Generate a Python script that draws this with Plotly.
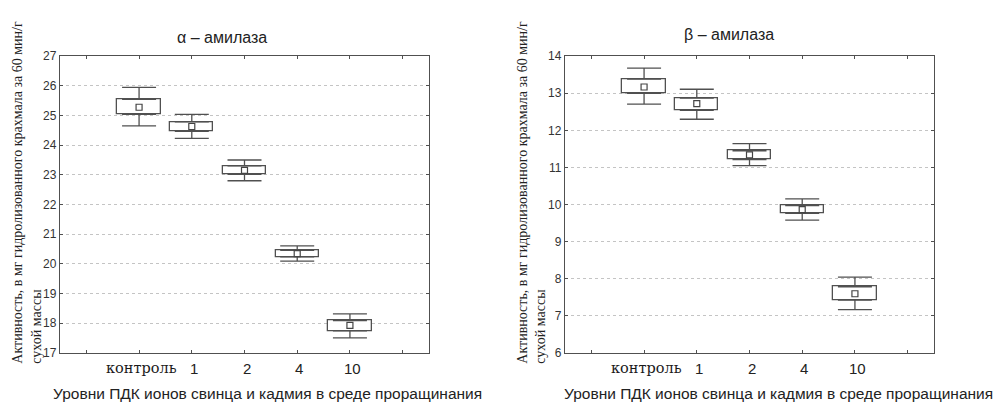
import plotly.graph_objects as go

# ---------------- data ----------------
categories = ["контроль", "1", "2", "4", "10"]
cat_pos = [1, 2, 3, 4, 5]

# alpha-amylase
a_mean = [25.28, 24.63, 23.15, 20.34, 17.92]
a_box_lo = [25.04, 24.47, 23.02, 20.23, 17.74]
a_box_hi = [25.55, 24.79, 23.30, 20.45, 18.08]
a_wh_lo = [24.65, 24.23, 22.80, 20.09, 17.50]
a_wh_hi = [25.95, 25.04, 23.50, 20.60, 18.31]

# beta-amylase
b_mean = [13.17, 12.72, 11.34, 9.86, 7.59]
b_box_lo = [13.00, 12.54, 11.21, 9.76, 7.42]
b_box_hi = [13.38, 12.87, 11.45, 9.97, 7.78]
b_wh_lo = [12.71, 12.30, 11.05, 9.58, 7.16]
b_wh_hi = [13.68, 13.11, 11.64, 10.15, 8.04]

a_yticks = list(range(17, 28))
b_yticks = list(range(6, 15))

W, H = 993, 407
LINE = "#505050"
SERIF = "DejaVu Serif"
SANS = "Liberation Sans"

fig = go.Figure()


def add_panel(xa, ya, mean, blo, bhi, wlo, whi):
    fig.add_trace(go.Bar(
        x=cat_pos, y=[h - l for h, l in zip(bhi, blo)], base=blo,
        width=0.82, marker=dict(color="white", line=dict(color=LINE, width=1.3)),
        xaxis=xa, yaxis=ya, showlegend=False, hoverinfo="skip"))
    fig.add_trace(go.Scatter(
        x=cat_pos, y=bhi, mode="markers",
        marker=dict(color="rgba(0,0,0,0)", size=1),
        error_y=dict(type="data", symmetric=False,
                     array=[w - b for w, b in zip(whi, bhi)],
                     arrayminus=[0] * len(bhi),
                     color=LINE, thickness=1.3, width=17),
        xaxis=xa, yaxis=ya, showlegend=False, hoverinfo="skip"))
    fig.add_trace(go.Scatter(
        x=cat_pos, y=blo, mode="markers",
        marker=dict(color="rgba(0,0,0,0)", size=1),
        error_y=dict(type="data", symmetric=False,
                     array=[0] * len(blo),
                     arrayminus=[b - w for w, b in zip(wlo, blo)],
                     color=LINE, thickness=1.3, width=17),
        xaxis=xa, yaxis=ya, showlegend=False, hoverinfo="skip"))
    fig.add_trace(go.Scatter(
        x=cat_pos, y=mean, mode="markers",
        marker=dict(symbol="square-open", size=6, color="#444444",
                    line=dict(width=1.2, color="#444444")),
        xaxis=xa, yaxis=ya, showlegend=False))


add_panel("x", "y", a_mean, a_box_lo, a_box_hi, a_wh_lo, a_wh_hi)
add_panel("x2", "y2", b_mean, b_box_lo, b_box_hi, b_wh_lo, b_wh_hi)

xcommon = dict(
    range=[-0.5, 6.5], tickmode="array", tickvals=list(range(0, 7)), showticklabels=False,
    ticks="inside", ticklen=3, tickcolor=LINE, showline=True, linecolor=LINE, linewidth=1.3,
    mirror="ticks", showgrid=False, zeroline=False,
)
ycommon = dict(
    ticks="inside", ticklen=3, tickcolor=LINE, showline=True, linecolor=LINE, linewidth=1.3,
    mirror="ticks", showgrid=True, gridcolor="#c4c4c4", griddash="dot", gridwidth=1,
    zeroline=False, tickfont=dict(family=SANS, size=12, color="#333333"),
)

ydom = [1 - 358 / H, 1 - 51 / H]
fig.update_layout(
    width=W, height=H, margin=dict(l=0, r=0, t=0, b=0),
    paper_bgcolor="white", plot_bgcolor="white", bargap=0,
    xaxis=dict(domain=[60 / W, 429 / W], **xcommon),
    yaxis=dict(domain=ydom, range=[17, 27], tickvals=a_yticks, **ycommon),
    xaxis2=dict(domain=[565 / W, 934 / W], anchor="y2", **xcommon),
    yaxis2=dict(domain=ydom, range=[6, 14], tickvals=b_yticks, anchor="x2", **ycommon),
)


def px(x):
    return x / W


def py(y):
    return 1 - y / H


ann = []
# category labels (below the x axes)
for xr in ["x", "x2"]:
    for i, (pos, lab) in enumerate(zip(cat_pos, categories)):
        if i == 0:
            f = dict(family=SERIF, size=14.5, color="#1a1a1a")
        else:
            f = dict(family=SANS, size=15, color="#222")
        ann.append(dict(x=pos + 0.04, xref=xr, y=py(374), yref="paper", text=lab, font=f))
# titles
ann.append(dict(x=px(222), y=py(32), text="α – амилаза", font=dict(family=SANS, size=16, color="#222")))
ann.append(dict(x=px(729), y=py(28), text="β – амилаза", font=dict(family=SANS, size=16, color="#222")))
# x titles
xt = "Уровни ПДК ионов свинца и кадмия в среде проращинания"
ann.append(dict(x=px(267), y=py(400), text=xt, font=dict(family=SANS, size=15.5, color="#222")))
ann.append(dict(x=px(778), y=py(400), text=xt, font=dict(family=SANS, size=15.5, color="#222")))
# y titles
yt1 = "Активность, в мг гидролизованного крахмала за 60 мин/г"
yt2 = "сухой массы"
for x1, x2 in [(18, 37), (523, 541)]:
    ann.append(dict(x=px(x1), y=py(372), text=yt1, textangle=-90, yanchor="bottom",
                    font=dict(family="Liberation Serif", size=14, color="#222")))
    ann.append(dict(x=px(x2), y=py(372), text=yt2, textangle=-90, yanchor="bottom",
                    font=dict(family="Liberation Serif", size=14, color="#222")))

for a in ann:
    a.setdefault("xanchor", "center")
    a.setdefault("yanchor", "middle")
    a.setdefault("xref", "paper")
    a.setdefault("yref", "paper")
    a.update(showarrow=False)
fig.update_layout(annotations=ann)

fig.write_html("out.html")
